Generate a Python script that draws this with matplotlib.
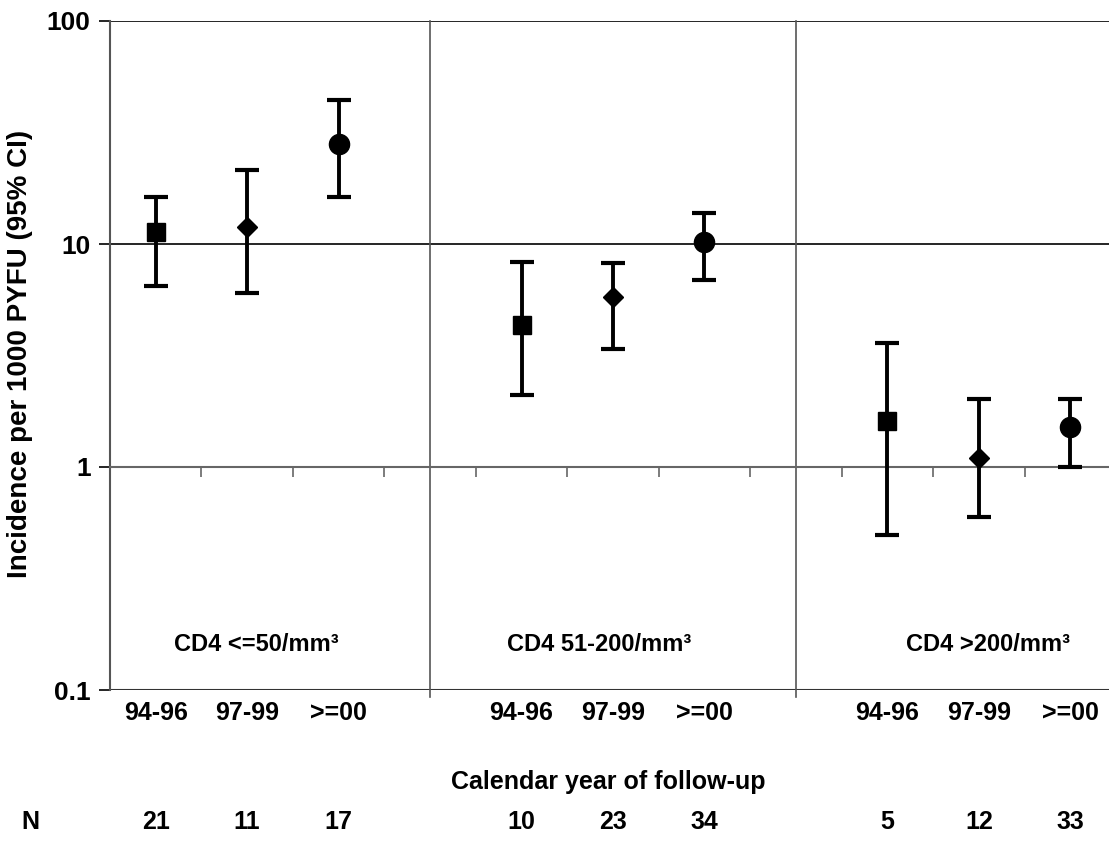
import matplotlib.pyplot as plt
import numpy as np

plt.rcParams['font.family'] = ['Liberation Sans', 'DejaVu Sans']
plt.rcParams['font.weight'] = 'bold'

# data
periods = ['94-96', '97-99', '>=00']
groups = ['CD4 <=50/mm³', 'CD4 51-200/mm³', 'CD4 >200/mm³']
markers = ['s', 'D', 'o']
msizes = [13.5, 9.8, 14.5]
incidence = [[11.3, 11.9, 28.1], [4.33, 5.79, 10.2], [1.61, 1.10, 1.51]]
lower = [[6.48, 6.03, 16.2], [2.10, 3.38, 6.9], [0.495, 0.597, 1.0]]
upper = [[16.2, 21.5, 44.2], [8.3, 8.22, 13.8], [3.6, 2.02, 2.02]]
n_counts = [[21, 11, 17], [10, 23, 34], [5, 12, 33]]

W, H = 1109, 857
fig = plt.figure(figsize=(W / 100, H / 100), dpi=100)
ax = fig.add_axes([110 / W, (H - 690) / H, 1006 / W, 669 / H])

ax.set_yscale('log')
ax.set_ylim(0.1, 100)
ax.set_xlim(0, 11)

# horizontal grid lines
for yv in [10, 100]:
    ax.axhline(yv, color='black', lw=1.2, zorder=1)
ax.axhline(0.1, color='#333333', lw=1.5, zorder=1)
# group separators
for xs in [3.5, 7.5]:
    ax.axvline(xs, ymin=-0.011, ymax=1, color='#555555', lw=1.2, clip_on=False, zorder=1)

# category axis crossing at 1
for s in ['top', 'right']:
    ax.spines[s].set_visible(False)
ax.spines['bottom'].set_position(('data', 1))
ax.spines['bottom'].set_color('#666666')
ax.spines['bottom'].set_linewidth(1.5)
ax.spines['left'].set_color('#555555')
ax.spines['left'].set_linewidth(1.5)
ax.set_xticks(np.arange(1, 11))
ax.tick_params(axis='x', direction='out', length=7, width=1.2, color='#666666', labelbottom=False)
ax.set_yticks([0.1, 1, 10, 100])
ax.set_yticklabels(['0.1', '1', '10', '100'])
ax.yaxis.set_minor_locator(plt.NullLocator())
ax.tick_params(axis='y', direction='out', length=8, width=1.2, labelsize=19, pad=6)

for g in range(3):
    for p in range(3):
        x = g * 4 + p + 0.5
        y = incidence[g][p]
        ax.errorbar(x, y, yerr=[[y - lower[g][p]], [upper[g][p] - y]],
                    fmt=markers[p], ms=msizes[p], color='black', mfc='black',
                    ecolor='black', elinewidth=2.8, capsize=8.3, capthick=3, zorder=3)

# group labels
gx = [1.6, 5.35, 9.6]
for g in range(3):
    ax.text(gx[g], 0.16, groups[g], ha='center', va='center', fontsize=17)

# category labels and N row
for g in range(3):
    for p in range(3):
        x = g * 4 + p + 0.5
        ax.text(x, -0.035, periods[p], transform=ax.get_xaxis_transform(),
                ha='center', va='center', fontsize=18)
        ax.text(x, -0.197, str(n_counts[g][p]), transform=ax.get_xaxis_transform(),
                ha='center', va='center', fontsize=18)

fig.text(30 / W, 1 - 822 / H, 'N', ha='center', va='center', fontsize=18)
fig.text(608 / W, 1 - 782 / H, 'Calendar year of follow-up', ha='center', va='center', fontsize=18)
fig.text(20 / W, 1 - 354 / H, 'Incidence per 1000 PYFU (95% CI)', rotation=90,
         ha='center', va='center', fontsize=20)

fig.savefig('out.png', dpi=100)
